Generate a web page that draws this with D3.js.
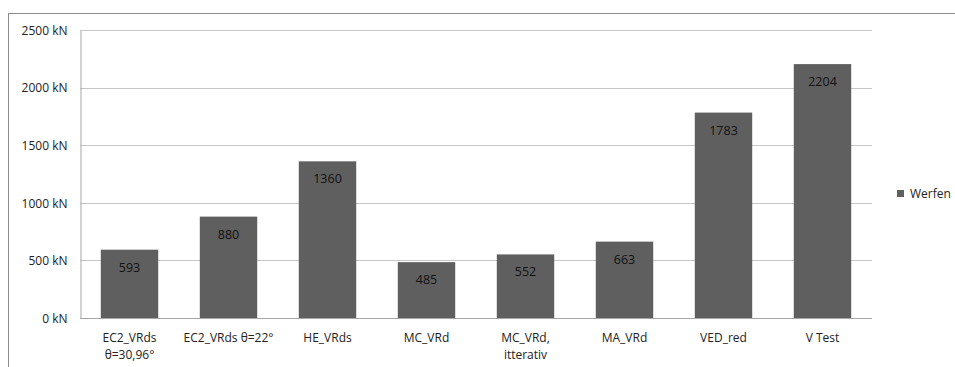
<!DOCTYPE html>
<html>
<head>
<meta charset="utf-8">
<script src="https://cdn.jsdelivr.net/npm/d3@7"></script>
<style>
  html, body { margin: 0; padding: 0; background: #fff; }
  svg { display: block; font-family: "Open Sans", "DejaVu Sans", sans-serif; }
</style>
</head>
<body>
<svg id="chart" width="955" height="367"></svg>
<script>
// Shear resistance per method (kN)
const categories = [
  ["EC2_VRds", "θ=30,96°"],
  ["EC2_VRds θ=22°"],
  ["HE_VRds"],
  ["MC_VRd"],
  ["MC_VRd,", "itterativ"],
  ["MA_VRd"],
  ["VED_red"],
  ["V Test"]
];
const values = [593, 880, 1360, 485, 552, 663, 1783, 2204];
const seriesName = "Werfen";
const yTicks = [0, 500, 1000, 1500, 2000, 2500];

const svg = d3.select("#chart");
const W = 955, H = 367;
const plot = { left: 80, right: 872, top: 30, bottom: 318 };

// outer frame
svg.append("rect")
  .attr("x", 8.5).attr("y", 13.5)
  .attr("width", W + 10).attr("height", H + 10)
  .attr("fill", "none").attr("stroke", "#8c8c8c").attr("stroke-width", 1);

const keys = categories.map((c, i) => i);
const x = d3.scaleBand().domain(keys).range([plot.left, plot.right])
  .paddingInner(0.42).paddingOuter(0.21);
const y = d3.scaleLinear().domain([0, 2500]).range([plot.bottom, plot.top]);

// gridlines
svg.append("g").selectAll("line").data(yTicks.filter(t => t > 0)).join("line")
  .attr("x1", plot.left).attr("x2", plot.right)
  .attr("y1", d => Math.round(y(d)) + 0.5).attr("y2", d => Math.round(y(d)) + 0.5)
  .attr("stroke", "#c6c6c6").attr("stroke-width", 1);

// y axis
const yAxis = svg.append("g")
  .attr("transform", `translate(${plot.left + 0.5},0.5)`)
  .call(d3.axisLeft(y).tickValues(yTicks).tickSize(0).tickPadding(13)
    .tickFormat(d => d + " kN"));
yAxis.select(".domain").attr("stroke", "#a6a6a6");
yAxis.selectAll("text").attr("font-size", 12).attr("fill", "#222")
  .attr("font-family", "\"Open Sans\", sans-serif");

// bars
svg.append("g").selectAll("rect").data(values).join("rect")
  .attr("x", (d, i) => x(i))
  .attr("y", d => y(d))
  .attr("width", x.bandwidth())
  .attr("height", d => plot.bottom - y(d))
  .attr("fill", "#5f5f5f");

// x axis baseline
svg.append("line")
  .attr("x1", plot.left).attr("x2", plot.right)
  .attr("y1", plot.bottom + 0.5).attr("y2", plot.bottom + 0.5)
  .attr("stroke", "#a6a6a6");

// value labels inside bar tops
svg.append("g").selectAll("text").data(values).join("text")
  .attr("x", (d, i) => x(i) + x.bandwidth() / 2)
  .attr("y", d => y(d) + 22)
  .attr("text-anchor", "middle")
  .attr("font-size", 12.5).attr("fill", "#111")
  .text(d => d);

// category labels
const catG = svg.append("g").selectAll("text").data(categories).join("text")
  .attr("x", (d, i) => x(i) + x.bandwidth() / 2)
  .attr("y", 342)
  .attr("text-anchor", "middle")
  .attr("font-size", 12).attr("fill", "#222");
catG.selectAll("tspan").data(d => d).join("tspan")
  .attr("x", function () { return this.parentNode.getAttribute("x"); })
  .attr("dy", (d, i) => i === 0 ? 0 : 17)
  .text(d => d);

// legend
const legend = svg.append("g").attr("transform", "translate(897,190)");
legend.append("rect").attr("width", 7).attr("height", 7).attr("fill", "#5f5f5f");
legend.append("text").attr("x", 13).attr("y", 7.5)
  .attr("font-size", 12).attr("fill", "#222").text(seriesName);
</script>
</body>
</html>
